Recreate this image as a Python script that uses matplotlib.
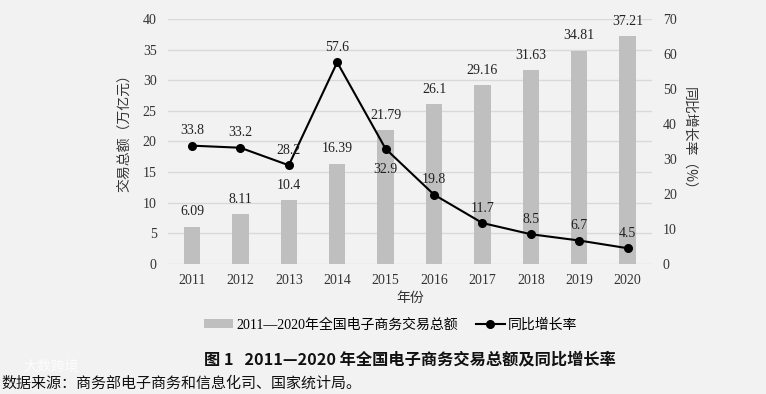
import matplotlib
matplotlib.use("Agg")
import matplotlib.pyplot as plt
from matplotlib.patches import Patch
from matplotlib.lines import Line2D

years = ["2011", "2012", "2013", "2014", "2015", "2016", "2017", "2018", "2019", "2020"]
totals = [6.09, 8.11, 10.4, 16.39, 21.79, 26.1, 29.16, 31.63, 34.81, 37.21]
growth = [33.8, 33.2, 28.2, 57.6, 32.9, 19.8, 11.7, 8.5, 6.7, 4.5]
left_ticks = [0, 5, 10, 15, 20, 25, 30, 35, 40]
right_ticks = [0, 10, 20, 30, 40, 50, 60, 70]

bg = "#f2f2f2"
serif = ["Liberation Serif", "Noto Sans CJK SC"]
cjk = ["Noto Sans CJK SC", "DejaVu Sans"]

fig = plt.figure(figsize=(7.66, 3.94), dpi=100, facecolor=bg)
ax = fig.add_axes([0.219, 0.330, 0.632, 0.622])
ax.set_facecolor(bg)
x = list(range(len(years)))
ax.bar(x, totals, width=0.34, color="#bfbfbf", zorder=2)
ax.set_xlim(-0.5, len(years) - 0.5)
ax.set_ylim(0, 40)
ax.set_yticks(left_ticks)
ax.set_xticks(x)
ax.set_xticklabels(years, fontfamily=serif, fontsize=10)
for lbl in ax.get_yticklabels():
    lbl.set_fontfamily(serif)
    lbl.set_fontsize(10)
ax.grid(axis="y", color="#d9d9d9", linewidth=1, zorder=0)
ax.set_axisbelow(True)
for s in ax.spines.values():
    s.set_visible(False)
ax.tick_params(length=0, colors="#333333", pad=8)
ax.tick_params(axis="x", pad=7)
ax.set_ylabel("交易总额（万亿元）", fontfamily=cjk, fontsize=10, color="#333333")
ax.yaxis.set_label_coords(-0.076, 0.55)
ax.set_xlabel("年份", fontfamily=cjk, fontsize=10, color="#333333", labelpad=3)

for xi, v in zip(x, totals):
    ax.annotate(f"{v:g}", (xi, v), xytext=(0, 6), textcoords="offset points",
                ha="center", va="bottom", fontfamily=serif, fontsize=10, color="#222222")

ax2 = ax.twinx()
ax2.set_ylim(0, 70)
ax2.set_yticks(right_ticks)
for s in ax2.spines.values():
    s.set_visible(False)
ax2.tick_params(length=0, colors="#333333", pad=8)
for lbl in ax2.get_yticklabels():
    lbl.set_fontfamily(serif)
    lbl.set_fontsize(10)
ax2.plot(x, growth, color="black", linewidth=1.5, marker="o", markersize=5.5, zorder=3)
ax2.set_ylabel("同比增长率（%）", fontfamily=cjk, fontsize=10, color="#333333",
               rotation=-90, labelpad=14)
for xi, v in zip(x, growth):
    if years[xi] == "2015":
        off, va = (0, -10), "top"
    else:
        off, va = (0, 6), "bottom"
    ax2.annotate(f"{v:g}", (xi, v), xytext=off, textcoords="offset points",
                 ha="center", va=va, fontfamily=serif, fontsize=10, color="#222222")

handles = [Patch(facecolor="#bfbfbf", edgecolor="none"),
           Line2D([0], [0], color="black", linewidth=1.5, marker="o", markersize=5.5)]
labels = ["2011—2020年全国电子商务交易总额", "同比增长率"]
leg = fig.legend(handles, labels, loc="center", bbox_to_anchor=(0.51, 0.175), ncol=2,
                 frameon=False, prop={"family": serif, "size": 10}, handlelength=2.1,
                 handleheight=0.6, columnspacing=1.3, handletextpad=0.2)

fig.text(0.535, 0.089, "图 1   2011—2020 年全国电子商务交易总额及同比增长率",
         ha="center", va="center", fontfamily=cjk, fontsize=11.7, fontweight="bold", color="#111111")
fig.text(0.002, 0.027, "数据来源：商务部电子商务和信息化司、国家统计局。",
         ha="left", va="center", fontfamily=cjk, fontsize=10.8, color="#111111")
fig.text(0.03, 0.068, "大数跨境", ha="left", va="center", fontfamily=cjk, fontsize=10,
         color="white", alpha=0.8)

fig.savefig("out.png", dpi=100, facecolor=bg)
